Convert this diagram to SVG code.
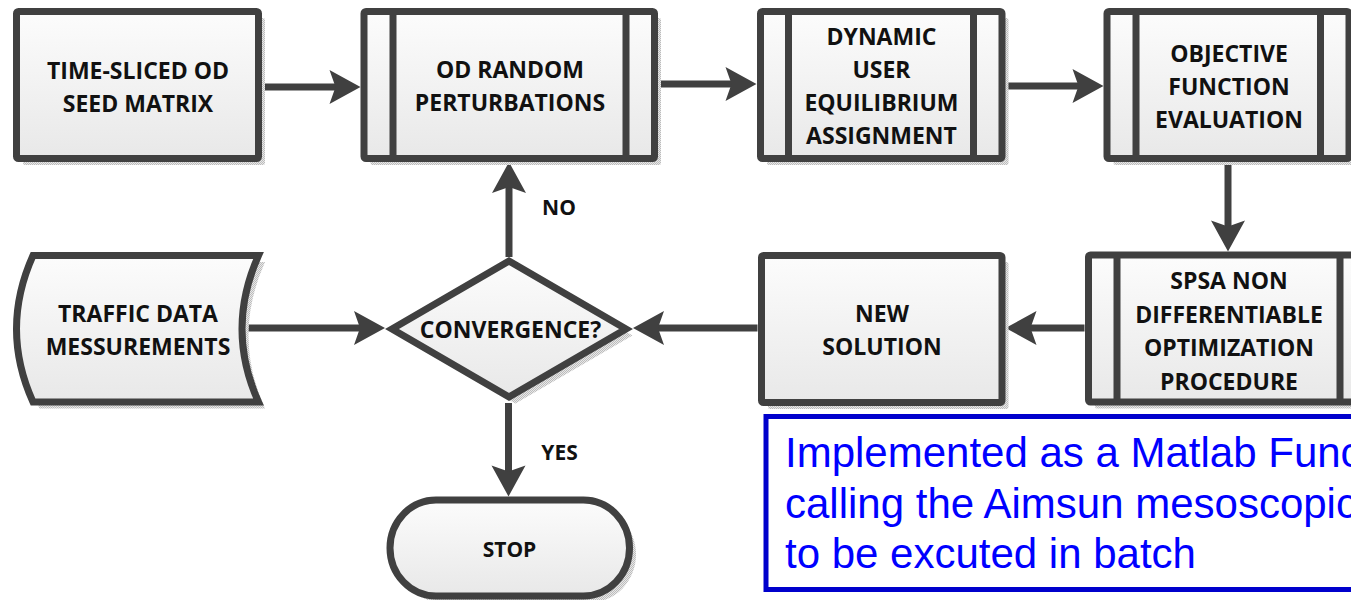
<svg xmlns="http://www.w3.org/2000/svg" width="1351" height="600" viewBox="0 0 1351 600">
  <style>
    .shape { fill: url(#boxFill); stroke: #404040; stroke-width: 7; stroke-linejoin: miter; }
    .shadow { fill: url(#shadowDots); stroke: none; }
    .divider { stroke: #404040; stroke-width: 7; }
    .label { font-family: "Open Sans", "Liberation Sans", sans-serif; font-weight: 700; font-size: 23px; text-anchor: middle; fill: #111111; }
    .small { font-size: 21px; }
    .conn { fill: none; stroke: #404040; stroke-width: 7; marker-end: url(#arrowHead); }
    .note { font-family: "Liberation Sans", Arial, sans-serif; font-size: 42px; fill: #0000FF; }
  </style>
  <defs>
    <linearGradient id="boxFill" x1="0" y1="0" x2="0" y2="1">
      <stop offset="0" stop-color="#fcfcfc"/>
      <stop offset="1" stop-color="#e8e8e8"/>
    </linearGradient>
    <pattern id="shadowDots" width="2" height="2" patternUnits="userSpaceOnUse">
      <rect width="2" height="2" fill="#e8e8e8"/>
      <rect width="1" height="1" fill="#bcbcbc"/>
      <rect x="1" y="1" width="1" height="1" fill="#bcbcbc"/>
    </pattern>
    <marker id="arrowHead" markerUnits="userSpaceOnUse" markerWidth="32" markerHeight="34" refX="16" refY="17" orient="auto" overflow="visible">
      <path d="M0,0 L31,17 L0,34 L6,17 Z" fill="#404040"/>
    </marker>
  </defs>

  <!-- connectors -->
  <g id="connectors">
    <path class="conn" d="M262,87 L345.5,87"/>
    <path class="conn" d="M658,84 L741.5,84"/>
    <path class="conn" d="M1005.5,86 L1088.5,86"/>
    <path class="conn" d="M1228,162 L1228,236.5"/>
    <path class="conn" d="M1084.5,328 L1020.5,328"/>
    <path class="conn" d="M757.5,328 L648,328"/>
    <path class="conn" d="M246,328 L370,328"/>
    <path class="conn" d="M509,257 L509,177"/>
    <path class="conn" d="M508.5,403 L508.5,481.5"/>
    <text class="label small" x="559" y="215">NO</text>
    <text class="label small" x="559.5" y="460">YES</text>
  </g>

  <!-- time-sliced OD seed matrix -->
  <g id="seed-matrix">
    <rect class="shadow" x="23" y="18" width="242" height="147" rx="2"/>
    <rect class="shape" x="16.5" y="11.5" width="242" height="147" rx="2"/>
    <text class="label" x="138" y="78.5">TIME-SLICED OD</text>
    <text class="label" x="138" y="111.5">SEED MATRIX</text>
  </g>

  <!-- OD random perturbations -->
  <g id="od-perturbations">
    <rect class="shadow" x="370.5" y="18" width="290.5" height="147" rx="2"/>
    <rect class="shape" x="364" y="11.5" width="290.5" height="147" rx="2"/>
    <line class="divider" x1="393" y1="11.5" x2="393" y2="158.5"/>
    <line class="divider" x1="626" y1="11.5" x2="626" y2="158.5"/>
    <text class="label" x="510" y="77.5">OD RANDOM</text>
    <text class="label" x="510" y="110.5">PERTURBATIONS</text>
  </g>

  <!-- dynamic user equilibrium assignment -->
  <g id="due-assignment">
    <rect class="shadow" x="767" y="18" width="241.5" height="147" rx="2"/>
    <rect class="shape" x="760.5" y="11.5" width="241.5" height="147" rx="2"/>
    <line class="divider" x1="788.5" y1="11.5" x2="788.5" y2="158.5"/>
    <line class="divider" x1="973.5" y1="11.5" x2="973.5" y2="158.5"/>
    <text class="label" x="881.5" y="45">DYNAMIC</text>
    <text class="label" x="881.5" y="78">USER</text>
    <text class="label" x="881.5" y="111">EQUILIBRIUM</text>
    <text class="label" x="881.5" y="144">ASSIGNMENT</text>
  </g>

  <!-- objective function evaluation -->
  <g id="objective-function">
    <rect class="shadow" x="1113.5" y="18" width="242" height="147" rx="2"/>
    <rect class="shape" x="1107" y="11.5" width="242" height="147" rx="2"/>
    <line class="divider" x1="1136" y1="11.5" x2="1136" y2="158.5"/>
    <line class="divider" x1="1320.5" y1="11.5" x2="1320.5" y2="158.5"/>
    <text class="label" x="1229" y="62">OBJECTIVE</text>
    <text class="label" x="1229" y="95">FUNCTION</text>
    <text class="label" x="1229" y="128">EVALUATION</text>
  </g>

  <!-- traffic data measurements (stored data) -->
  <g id="traffic-data">
    <path class="shadow" d="M39.5,262 L265,262 Q232,335.5 265,408.5 L39.5,408.5 Q6.5,335.5 39.5,262 Z"/>
    <path class="shape" d="M33,255.5 L258.5,255.5 Q225.5,329 258.5,402 L33,402 Q0,329 33,255.5 Z"/>
    <text class="label" x="138" y="322">TRAFFIC DATA</text>
    <text class="label" x="138" y="355">MESSUREMENTS</text>
  </g>

  <!-- convergence decision -->
  <g id="convergence">
    <polygon class="shadow" points="515.5,267.5 632.5,335.5 515.5,403.5 398.5,335.5"/>
    <polygon class="shape" points="509,261 626,329 509,397 392,329"/>
    <text class="label" x="510.5" y="338">CONVERGENCE?</text>
  </g>

  <!-- new solution -->
  <g id="new-solution">
    <rect class="shadow" x="768" y="262" width="240.5" height="147" rx="2"/>
    <rect class="shape" x="761.5" y="255.5" width="240.5" height="147" rx="2"/>
    <text class="label" x="882" y="322">NEW</text>
    <text class="label" x="882" y="355">SOLUTION</text>
  </g>

  <!-- SPSA optimization procedure -->
  <g id="spsa">
    <rect class="shadow" x="1095" y="261.5" width="280" height="147" rx="2"/>
    <rect class="shape" x="1088.5" y="255" width="280" height="147" rx="2"/>
    <line class="divider" x1="1117" y1="255" x2="1117" y2="402"/>
    <line class="divider" x1="1340" y1="255" x2="1340" y2="402"/>
    <text class="label" x="1229" y="289">SPSA NON</text>
    <text class="label" x="1229" y="322.5">DIFFERENTIABLE</text>
    <text class="label" x="1229" y="356">OPTIMIZATION</text>
    <text class="label" x="1229" y="389.5">PROCEDURE</text>
  </g>

  <!-- stop terminator -->
  <g id="stop">
    <rect class="shadow" x="396.5" y="506.5" width="239.5" height="96" rx="46" ry="48"/>
    <rect class="shape" x="390" y="500" width="239.5" height="96" rx="46" ry="48"/>
    <text class="label small" x="509.5" y="557">STOP</text>
  </g>

  <!-- implementation note -->
  <g id="note">
    <rect x="766" y="416.5" width="620" height="173" fill="#ffffff" stroke="#0000CC" stroke-width="5"/>
    <text class="note" x="785" y="467">Implemented as a Matlab Function</text>
    <text class="note" x="785" y="518">calling the Aimsun mesoscopic</text>
    <text class="note" x="785" y="568">to be excuted in batch</text>
  </g>
</svg>
